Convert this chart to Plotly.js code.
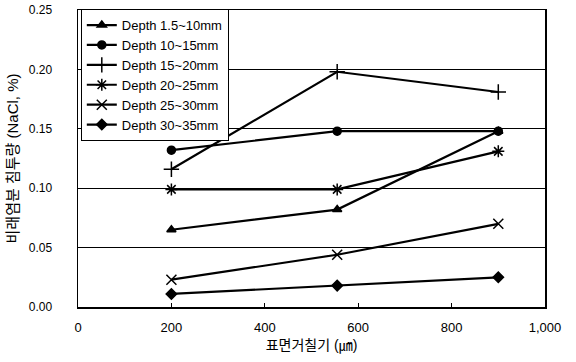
<!DOCTYPE html>
<html><head><meta charset="utf-8">
<script src="https://cdn.plot.ly/plotly-3.0.1.min.js"></script>
<style>body{margin:0;background:#fff}#c{width:576px;height:362px}</style>
</head><body><div id="c"></div>
<script>
const roughness = [200, 555, 900];
const seriesNames = ["Depth 1.5~10mm","Depth 10~15mm","Depth 15~20mm","Depth 20~25mm","Depth 25~30mm","Depth 30~35mm"];
const d1 = [0.065, 0.082, 0.148];
const d2 = [0.132, 0.148, 0.148];
const d3 = [0.116, 0.198, 0.181];
const d4 = [0.099, 0.099, 0.131];
const d5 = [0.023, 0.044, 0.070];
const d6 = [0.011, 0.018, 0.025];
const yTicks = [0, 0.05, 0.10, 0.15, 0.20, 0.25];
const xTicks = [0, 200, 400, 600, 800, 1000];

const values = [d1,d2,d3,d4,d5,d6];
const symbols = ["triangle-up","circle","cross-thin-open","asterisk-open","x-thin-open","diamond"];
const sizes = [8,8,11,10,10,8];
const traces = values.map((v,i)=>({
  x: roughness, y: v, name: seriesNames[i], type:'scatter', mode:'lines+markers',
  line:{color:'#000', width:2.2},
  marker:{symbol:symbols[i], size:sizes[i], color:'#000', line:{color:'#000', width:1.5}}
}));
const fam = '"Liberation Sans","Noto Sans CJK KR",Arial,sans-serif';
const layout = {
  width:576, height:362,
  margin:{l:78, r:31, t:10, b:55, autoexpand:false},
  paper_bgcolor:'#fff', plot_bgcolor:'#fff',
  font: {family:fam, size:13, color:'#000'},
  showlegend:true,
  legend:{x:0.006, y:1.003, xanchor:'left', yanchor:'top', bgcolor:'#fff', bordercolor:'#000', borderwidth:1,
          font:{family:fam, size:13, color:'#000'}, tracegroupgap:0, itemwidth:30},
  xaxis:{range:[0,1000], tickvals:xTicks, ticktext:xTicks.map(v=>v.toLocaleString('en-US')),
         ticks:'inside', ticklen:4, tickcolor:'#000', showgrid:false, zeroline:false,
         showline:true, linecolor:'#000', linewidth:1.5, mirror:true, automargin:false,
         ticklabelstandoff:8, tickfont:{family:fam, size:13},
         title:{text:'표면거칠기 (㎛)', font:{family:fam, size:14}, standoff:6}},
  yaxis:{range:[0,0.25], tickvals:yTicks, ticktext:yTicks.map(v=>v.toFixed(2)),
         ticks:'', showgrid:true, gridcolor:'#000', gridwidth:1, zeroline:false,
         showline:true, linecolor:'#000', linewidth:1.5, mirror:true, automargin:false,
         ticklabelstandoff:22, tickfont:{family:fam, size:12},
         title:{text:'비래염분 침투량 (NaCl, %)', font:{family:fam, size:15}, standoff:6}}
};
Plotly.newPlot('c', traces, layout, {staticPlot:true, displayModeBar:false});
</script></body></html>
